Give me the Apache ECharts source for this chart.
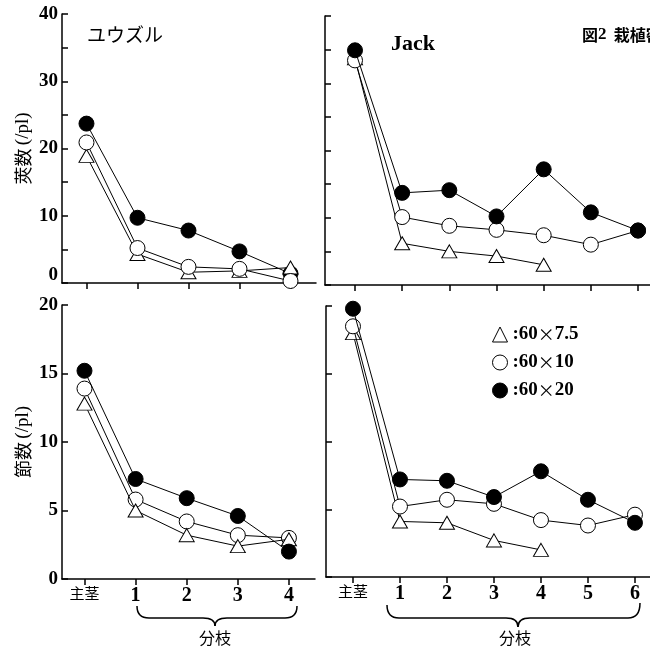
<!DOCTYPE html>
<html><head><meta charset="utf-8">
<script src="https://cdn.jsdelivr.net/npm/echarts@6/dist/echarts.min.js"></script>
<style>html,body{margin:0;padding:0;background:#fff}#c{width:650px;height:648px}</style>
</head><body><div id="c"></div>
<script>
// ---- data ----
const catsY = ['主茎', '1', '2', '3', '4'];            // ユウズル
const catsJ = ['主茎', '1', '2', '3', '4', '5', '6'];  // Jack
const seriesNames = ['60×7.5', '60×10', '60×20'];

// 莢数 (/pl)
const podY_tri = [18.9, 4.3, 1.6, 1.8, 2.3];
const podY_open = [20.9, 5.2, 2.4, 2.1, 0.3];
const podY_fill = [23.7, 9.7, 7.8, 4.7, 1.4];
const podJ_tri = [33.7, 6.2, 5.0, 4.3, 3.0];
const podJ_open = [33.4, 10.1, 8.8, 8.2, 7.4, 6.0, 8.1];
const podJ_fill = [34.9, 13.7, 14.1, 10.2, 17.2, 10.8, 8.1];

// 節数 (/pl)
const nodeY_tri = [12.8, 5.0, 3.2, 2.4, 2.9];
const nodeY_open = [13.9, 5.8, 4.2, 3.2, 3.0];
const nodeY_fill = [15.2, 7.3, 5.9, 4.6, 2.0];
const nodeJ_tri = [18.0, 4.1, 4.0, 2.7, 2.0];
const nodeJ_open = [18.5, 5.2, 5.7, 5.4, 4.2, 3.8, 4.6];
const nodeJ_fill = [19.8, 7.2, 7.1, 5.9, 7.8, 5.7, 4.0];

const podTicks = [0, 10, 20, 30, 40];
const nodeTicks = [0, 5, 10, 15, 20];

// ---- styles ----
const SERIF = 'Liberation Serif';
const CJK = 'Noto Sans CJK JP';
const axisLineStyle = { color: '#000', width: 1.5 };

function idx(arr) { return arr.map((v, i) => [i, v]); }

const symbolStyle = {
  tri: { symbol: 'triangle', symbolSize: [15, 13], itemStyle: { color: '#fff', borderColor: '#000', borderWidth: 1 } },
  open: { symbol: 'circle', symbolSize: 15, itemStyle: { color: '#fff', borderColor: '#000', borderWidth: 1 } },
  fill: { symbol: 'circle', symbolSize: 15, itemStyle: { color: '#000', borderColor: '#000', borderWidth: 1 } }
};
const nameOf = { tri: seriesNames[0], open: seriesNames[1], fill: seriesNames[2] };

function mk(kind, data, gi, z) {
  return Object.assign({
    type: 'line', name: nameOf[kind], xAxisIndex: gi, yAxisIndex: gi,
    data: idx(data), lineStyle: { color: '#000', width: 1 }, z: z,
    showAllSymbol: true, animation: false, emphasis: { disabled: true }
  }, symbolStyle[kind]);
}

const grids = [
  { left: 62, top: 14, width: 254, height: 269 },
  { left: 325, top: 16, width: 325, height: 269 },
  { left: 62, top: 305, width: 253, height: 274 },
  { left: 326, top: 306, width: 324, height: 271 }
];

function xAx(gi, cats, min, max, showLabels) {
  const vals = cats.map((c, i) => i);
  return {
    type: 'value', gridIndex: gi, min: min, max: max,
    axisLine: { show: true, onZero: false, lineStyle: axisLineStyle },
    splitLine: { show: false },
    axisTick: { show: true, inside: false, length: 6, lineStyle: axisLineStyle, customValues: vals },
    axisLabel: {
      show: showLabels, customValues: vals, margin: 7,
      formatter: v => (cats[v] === '主茎' ? '{c|' + cats[v] + '}' : '{n|' + cats[v] + '}'),
      rich: {
        c: { fontFamily: CJK, fontSize: 15, color: '#000' },
        n: { fontFamily: SERIF, fontWeight: 'bold', fontSize: 20, color: '#000' }
      }
    }
  };
}

function yAx(gi, max, showLabels, labelTicks, name) {
  return {
    type: 'value', gridIndex: gi, min: 0, max: max, interval: 5,
    axisLine: { show: true, onZero: false, lineStyle: axisLineStyle },
    splitLine: { show: false },
    axisTick: { show: true, inside: true, length: 6, lineStyle: axisLineStyle },
    axisLabel: {
      show: showLabels, margin: 4,
      formatter: v => (labelTicks.indexOf(v) < 0 ? '' : (v === 0 && max === 40 ? '{z|0}' : '{n|' + v + '}')),
      rich: {
        n: { fontFamily: SERIF, fontWeight: 'bold', fontSize: 19, color: '#000' },
        z: { fontFamily: SERIF, fontWeight: 'bold', fontSize: 19, color: '#000', padding: [0, 0, 16, 0] }
      }
    },
    name: name || '', nameLocation: 'middle', nameRotate: 90, nameGap: 29,
    nameTextStyle: {
      rich: {
        c: { fontFamily: CJK, fontSize: 18, color: '#000' },
        s: { fontFamily: SERIF, fontSize: 19, color: '#000' }
      }
    }
  };
}

function brace(x1, x2, xc, yTop1, yTop2, yMid, yTip, r) {
  const st = { fill: null, stroke: '#000', lineWidth: 1.5 };
  const q = (ax, ay, bx, by, cx, cy) => ({ type: 'bezierCurve', shape: { x1: ax, y1: ay, x2: bx, y2: by, cpx1: cx, cpy1: cy }, style: st });
  const l = (ax, ay, bx, by) => ({ type: 'line', shape: { x1: ax, y1: ay, x2: bx, y2: by }, style: st });
  return [
    q(x1, yTop1, x1 + r, yMid, x1, yMid),
    l(x1 + r, yMid, xc - r, yMid),
    q(xc - r, yMid, xc, yTip, xc, yMid),
    q(xc, yTip, xc + r, yMid, xc, yMid),
    l(xc + r, yMid, x2 - r, yMid),
    q(x2 - r, yMid, x2, yTop2, x2, yMid)
  ];
}

const option = {
  backgroundColor: '#fff',
  animation: false,
  grid: grids,
  xAxis: [
    xAx(0, catsY, -0.48, 4.5, false),
    xAx(1, catsJ, -0.636, 6.254, false),
    xAx(2, catsY, -0.44, 4.51, true),
    xAx(3, catsJ, -0.574, 6.32, true)
  ],
  yAxis: [
    yAx(0, 40, true, podTicks, '{c|莢数} {s|(/pl)}'),
    yAx(1, 40, false, podTicks),
    yAx(2, 20, true, nodeTicks, '{c|節数} {s|(/pl)}'),
    yAx(3, 20, false, nodeTicks)
  ],
  legend: {
    orient: 'vertical', left: 492, top: 325, itemWidth: 15, itemHeight: 15, itemGap: 9,
    padding: 0,
    selectedMode: false,
    formatter: n => '{a|:' + n.split('×')[0] + '}{x|×}{a|' + n.split('×')[1] + '}',
    textStyle: {
      rich: {
        a: { fontFamily: SERIF, fontWeight: 'bold', fontSize: 19, lineHeight: 15, color: '#000' },
        x: { fontFamily: CJK, fontSize: 17, lineHeight: 15, color: '#000' }
      }
    },
    data: [
      { name: seriesNames[0], icon: 'triangle', itemStyle: { color: '#fff', borderColor: '#000', borderWidth: 1 } },
      { name: seriesNames[1], icon: 'circle', itemStyle: { color: '#fff', borderColor: '#000', borderWidth: 1 } },
      { name: seriesNames[2], icon: 'circle', itemStyle: { color: '#000', borderColor: '#000', borderWidth: 1 } }
    ]
  },
  series: [
    mk('fill', podY_fill, 0, 2), mk('tri', podY_tri, 0, 3), mk('open', podY_open, 0, 4),
    mk('tri', podJ_tri, 1, 2), mk('open', podJ_open, 1, 3), mk('fill', podJ_fill, 1, 4),
    mk('open', nodeY_open, 2, 2), mk('tri', nodeY_tri, 2, 3), mk('fill', nodeY_fill, 2, 4),
    mk('tri', nodeJ_tri, 3, 2), mk('open', nodeJ_open, 3, 3), mk('fill', nodeJ_fill, 3, 4)
  ],
  graphic: [
    { type: 'text', x: 87, y: 35, style: { text: 'ユウズル', font: '19px "Noto Sans CJK JP"', fill: '#000', verticalAlign: 'middle' } },
    { type: 'text', x: 391, y: 44, style: { text: 'Jack', font: 'bold 22px "Liberation Serif"', fill: '#000', verticalAlign: 'middle' } },
    { type: 'text', x: 582, y: 35, style: { text: '{a|図}{b|2}{a|  栽植密度}', fill: '#000', verticalAlign: 'middle',
        rich: { a: { fontFamily: CJK, fontSize: 16, fontWeight: 'bold' }, b: { fontFamily: SERIF, fontSize: 17, fontWeight: 'bold' } } } },
    ...brace(137, 297, 215, 606, 606, 618, 626, 12),
    ...brace(387, 640, 518, 605, 603, 618, 627, 12),
    { type: 'text', x: 215, y: 638, style: { text: '分枝', font: '16px "Noto Sans CJK JP"', fill: '#000', align: 'center', verticalAlign: 'middle' } },
    { type: 'text', x: 515, y: 638, style: { text: '分枝', font: '16px "Noto Sans CJK JP"', fill: '#000', align: 'center', verticalAlign: 'middle' } }
  ]
};

const chart = echarts.init(document.getElementById('c'), null, { renderer: 'canvas' });
chart.setOption(option);
</script>
</body></html>
